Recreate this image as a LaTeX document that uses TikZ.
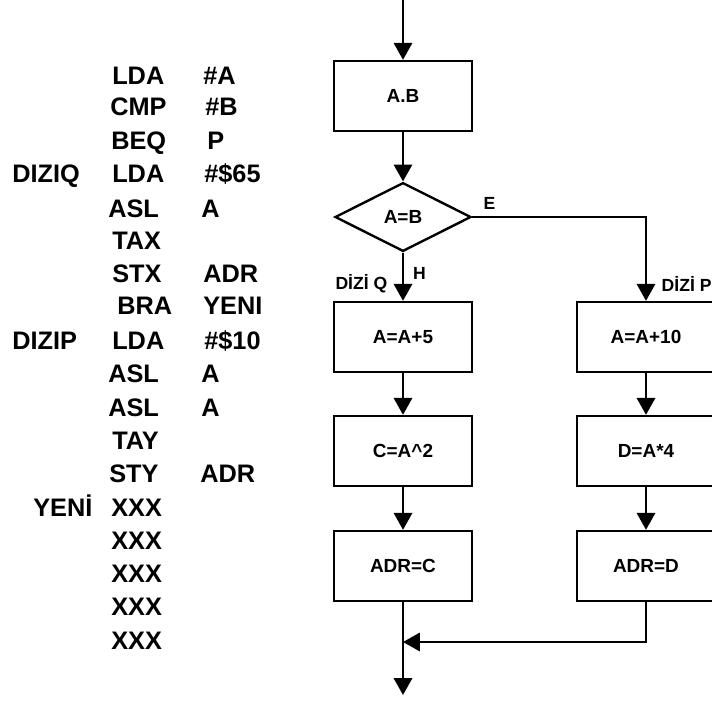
\documentclass[tikz,border=0pt]{standalone}
\usepackage{fontspec}
\setmainfont{Liberation Sans}
\usetikzlibrary{shapes.geometric,arrows.meta}

\begin{document}
\begin{tikzpicture}[x=0.025cm, y=-0.025cm,
    flowBox/.style={draw, line width=1.7pt, minimum width=3.45cm, minimum height=1.75cm, font=\fontsize{13.5}{15}\selectfont\bfseries},
    flowDec/.style={draw, diamond, aspect=2, line width=1.7pt, inner sep=0pt, minimum width=3.4cm, minimum height=1.72cm, font=\fontsize{13.5}{15}\selectfont\bfseries},
    flowArrow/.style={-{Triangle[length=12pt, width=13pt]}, line width=1.7pt},
    flowLabel/.style={font=\fontsize{12.5}{15}\selectfont\bfseries},
    flowSmall/.style={font=\fontsize{12.5}{14}\selectfont\bfseries},
    codeText/.style={inner sep=0pt, anchor=west, text height=12.9pt, text depth=0pt, font=\fontsize{18}{20}\selectfont\bfseries}]
    \useasboundingbox (0,0) rectangle (712,700);

    % assembly listing
    \node[codeText] (m1) at (112, 75) {LDA};   \node[codeText] (o1) at (203, 75) {\#A};
    \node[codeText] (m2) at (110, 106) {CMP};  \node[codeText] (o2) at (205, 106) {\#B};
    \node[codeText] (m3) at (111, 140) {BEQ};  \node[codeText] (o3) at (207, 140) {P};
    \node[codeText] (lq) at (12, 173) {DIZIQ};
    \node[codeText] (m4) at (112, 173) {LDA};  \node[codeText] (o4) at (204, 173) {\#\$65};
    \node[codeText] (m5) at (108, 208) {ASL};  \node[codeText] (o5) at (201, 208) {A};
    \node[codeText] (m6) at (112, 240) {TAX};
    \node[codeText] (m7) at (112, 273) {STX};  \node[codeText] (o7) at (203, 273) {ADR};
    \node[codeText] (m8) at (117, 305) {BRA};  \node[codeText] (o8) at (203, 305) {YENI};
    \node[codeText] (lp) at (12, 340) {DIZIP};
    \node[codeText] (m9) at (112, 340) {LDA};  \node[codeText] (o9) at (204, 340) {\#\$10};
    \node[codeText] (m10) at (108, 373) {ASL}; \node[codeText] (o10) at (201, 373) {A};
    \node[codeText] (m11) at (108, 407) {ASL}; \node[codeText] (o11) at (201, 407) {A};
    \node[codeText] (m12) at (112, 440) {TAY};
    \node[codeText] (m13) at (109, 473) {STY}; \node[codeText] (o13) at (200, 473) {ADR};
    \node[codeText] (ly) at (33, 507) {YENİ};
    \node[codeText] (m14) at (111, 507) {XXX};
    \node[codeText] (m15) at (111, 540) {XXX};
    \node[codeText] (m16) at (111, 573) {XXX};
    \node[codeText] (m17) at (111, 606) {XXX};
    \node[codeText] (m18) at (111, 640) {XXX};

    % flow chart
    \coordinate (start) at (403, 0);
    \node[flowBox] (ab) at (403, 96) {A.B};
    \node[flowDec] (dec) at (403, 217) {A=B};
    \node[flowBox] (q1) at (403, 337) {A=A+5};
    \node[flowBox] (q2) at (403, 451) {C=A\^{}2};
    \node[flowBox] (q3) at (403, 566) {ADR=C};
    \node[flowBox] (p1) at (646, 337) {A=A+10};
    \node[flowBox] (p2) at (646, 451) {D=A*4};
    \node[flowBox] (p3) at (646, 566) {ADR=D};
    \coordinate (merge) at (403, 642);
    \coordinate (finish) at (403, 695);

    \draw[flowArrow] (start) -- (ab);
    \draw[flowArrow] (ab) -- (dec);
    \draw[flowArrow] (dec) -- node[flowLabel, right=3pt, pos=0.44] {H} node[flowSmall, left=7pt, pos=0.64] {DİZİ Q} (q1);
    \draw[flowArrow] (dec.east) -| node[flowLabel, above=1pt, pos=0.05] {E} node[flowSmall, right=7pt, pos=0.9] {DİZİ P} (p1.north);
    \draw[flowArrow] (q1) -- (q2);
    \draw[flowArrow] (q2) -- (q3);
    \draw[flowArrow] (p1) -- (p2);
    \draw[flowArrow] (p2) -- (p3);
    \draw[flowArrow] (p3.south) |- (merge);
    \draw[flowArrow] (q3) -- (finish);
\end{tikzpicture}
\end{document}
